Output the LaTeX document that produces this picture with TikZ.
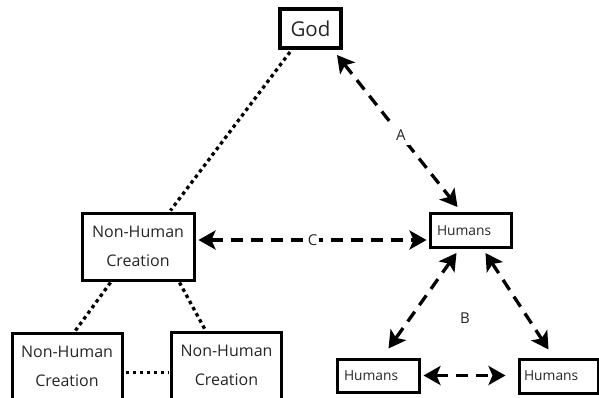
\documentclass[tikz,border=0pt]{standalone}
\usepackage{fontspec}
\setmainfont{Open Sans}
\usetikzlibrary{arrows.meta}
\definecolor{txt}{gray}{0.15}
\begin{document}
\begin{tikzpicture}[x=1pt,y=-1pt,
  boxbase/.style={draw, line width=3pt, inner sep=0pt, text=txt},
  godbox/.style={boxbase, line width=4pt, minimum width=61pt, minimum height=39pt, font=\fontsize{20.5}{24}\selectfont},
  nhbox/.style={boxbase, minimum width=110pt, minimum height=67pt, align=center, font=\fontsize{16}{29}\selectfont},
  hbox/.style={boxbase, minimum height=34pt, inner xsep=7pt, align=left, font=\fontsize{13.8}{16}\selectfont},
  dashline/.style={line width=3.3pt, dash pattern=on 12pt off 8pt,
    {Stealth[length=17pt,width=19pt,inset=4pt]}-{Stealth[length=17pt,width=19pt,inset=4pt]}},
  dotline/.style={line width=3.3pt, dash pattern=on 3.5pt off 3.5pt},
  lab/.style={fill=white, inner sep=4pt, text=txt, font=\fontsize{15}{18}\selectfont}
]
\useasboundingbox (0,0) rectangle (599,397);
\begin{scope}
\clip (0,0) rectangle (599,397);
\node[godbox] (god) at (310.5,28.5) {God};
\node[nhbox, minimum width=112pt] (nhm) at (138,246.5) {Non-Human\\Creation};
\node[hbox, text width=67pt] (hum) at (470.5,230.5) {Humans};
\node[nhbox] (nhl) at (67,366.5) {Non-Human\\Creation};
\node[nhbox] (nhr) at (226.5,365.5) {Non-Human\\Creation};
\node[hbox, text width=68pt, minimum height=33pt] (hl) at (378,375.5) {Humans};
\node[hbox, inner xsep=5pt, text width=69pt] (hr) at (558.5,376) {Humans};

% dotted links
\draw[dotline] ([xshift=12pt,yshift=-2pt]god.south west) -- ([xshift=90pt,yshift=1pt]nhm.north west);
\draw[dotline] ([xshift=30pt,yshift=-1pt]nhm.south west) -- ([xshift=65pt,yshift=1pt]nhl.north west);
\draw[dotline] ([xshift=-16pt,yshift=-1pt]nhm.south east) -- ([xshift=35pt,yshift=1pt]nhr.north west);
\draw[dotline] ([xshift=2pt,yshift=-6pt]nhl.east) -- ([xshift=-2pt,yshift=-7pt]nhr.west);

% A
\draw[dashline] ([xshift=-6pt,yshift=-5pt]god.south east) -- ([xshift=29pt,yshift=5pt]hum.north west)
  node[lab, pos=0.53] {A};
% C
\draw[dashline] ([xshift=3pt,yshift=6.5pt]nhm.east) -- ([xshift=-2pt,yshift=-9.5pt]hum.west)
  node[lab, inner xsep=2pt, pos=0.5] {C};
% B
\draw[dashline] ([xshift=28pt,yshift=-4pt]hum.south west) -- ([xshift=53pt,yshift=9pt]hl.north west);
\draw[dashline] ([xshift=-27pt,yshift=-4pt]hum.south east) -- ([xshift=31pt,yshift=8pt]hr.north west);
\node[lab] (blab) at (465,318) {B};
% bottom
\draw[dashline] ([xshift=3pt]hl.east) -- ([xshift=-12pt,yshift=0.5pt]hr.west);
\end{scope}
\end{tikzpicture}
\end{document}
